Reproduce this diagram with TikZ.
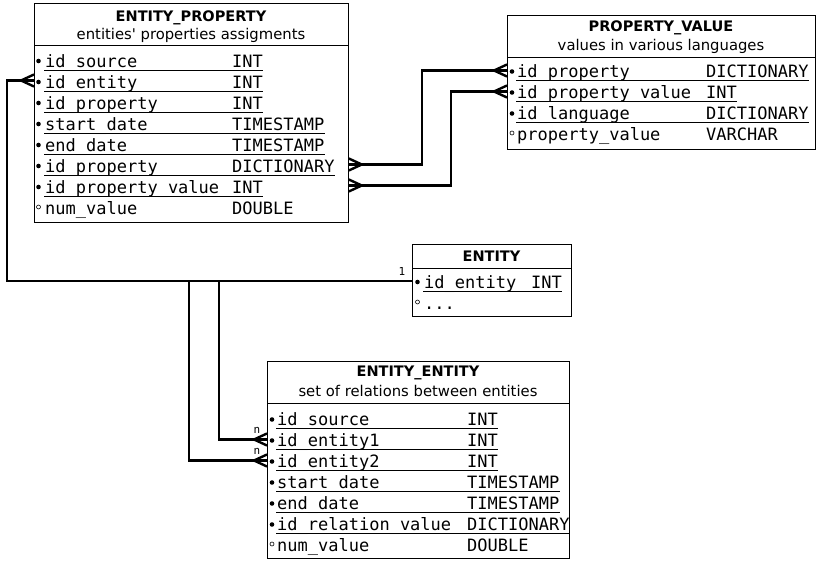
\documentclass[tikz,border=0pt]{standalone}
\usepackage{fontspec}
\setmainfont{DejaVu Sans}
\newfontfamily\fieldfont{DejaVu Sans Mono}
\usetikzlibrary{calc, positioning}

\begin{document}
\begin{tikzpicture}[
    x=1pt, y=-1pt,
    tbox/.style={
        rectangle, draw=black, line width=0.8pt, fill=white,
        anchor=north west, inner sep=0pt
    },
    ttitle/.style={
        anchor=base, inner sep=0pt, font=\fontsize{14.5}{16}\selectfont\bfseries
    },
    tsub/.style={
        anchor=base, inner sep=0pt, font=\fontsize{14.8}{16}\selectfont
    },
    fname/.style={
        anchor=base west, inner sep=0pt, font=\fieldfont\fontsize{17}{19}\selectfont
    },
    ftype/.style={fname},
    sepline/.style={line width=0.8pt, draw=black},
    uline/.style={line width=0.7pt, draw=black},
    keydot/.style={fill=black},
    nulldot/.style={draw=black, line width=0.6pt},
    conn/.style={line width=2.4pt, draw=black},
    card/.style={inner sep=0pt, font=\fieldfont\fontsize{11}{12}\selectfont},
    crowfoot/.pic={\draw[conn] (-13,0) -- (0,-6) (-13,0) -- (0,6);}
]
    \useasboundingbox (0,0) rectangle (817,561);

    % --- ENTITY_PROPERTY ---
    \node [tbox, minimum width=314pt, minimum height=219pt] (ep) at (34,3) {};
    \draw [sepline] (34,45) -- (348,45);
    \node [ttitle] (ep-title) at (191,22) {ENTITY\_PROPERTY};
    \node [tsub] (ep-sub) at (191,40) {entities\textquotesingle{} properties assigments};
    \foreach \fn/\ft [count=\i from 0] in {id\_source/INT, id\_entity/INT, id\_property/INT,
        start\_date/TIMESTAMP, end\_date/TIMESTAMP, id\_property/DICTIONARY, id\_property\_value/INT} {
        \coordinate (ep-r\i) at (0,59.5+21*\i);
        \node [fname] (ep-n\i) at (45,67.5+21*\i) {\fn};
        \node [ftype] (ep-t\i) at (232,67.5+21*\i) {\ft};
        \path [keydot] (38.5,61+21*\i) circle (2.3);
        \draw [uline] ($(ep-n\i.base west)+(-1,2.5)$) -- ($(ep-t\i.base east)+(0,2.5)$);
    }
    \node [fname] (ep-n7) at (45,214.5) {num\_value};
    \node [ftype] (ep-t7) at (232,214.5) {DOUBLE};
    \path [nulldot] (38.5,207) circle (2);

    % --- PROPERTY_VALUE ---
    \node [tbox, minimum width=308pt, minimum height=134pt] (pv) at (507,15) {};
    \draw [sepline] (507,57) -- (815,57);
    \node [ttitle] (pv-title) at (661,32) {PROPERTY\_VALUE};
    \node [tsub] (pv-sub) at (661,51) {values in various languages};
    \foreach \fn/\ft [count=\i from 0] in {id\_property/DICTIONARY, id\_property\_value/INT,
        id\_language/DICTIONARY} {
        \coordinate (pv-r\i) at (0,70.5+21*\i);
        \node [fname] (pv-n\i) at (517,77.5+21*\i) {\fn};
        \node [ftype] (pv-t\i) at (706,77.5+21*\i) {\ft};
        \path [keydot] (512,71.5+21*\i) circle (2.3);
        \draw [uline] ($(pv-n\i.base west)+(-1,2.5)$) -- ($(pv-t\i.base east)+(0,2.5)$);
    }
    \node [fname] (pv-n3) at (517,140.5) {property\_value};
    \node [ftype] (pv-t3) at (706,140.5) {VARCHAR};
    \path [nulldot] (512,133) circle (2);

    % --- ENTITY ---
    \node [tbox, minimum width=159pt, minimum height=72pt] (ent) at (412,244) {};
    \draw [sepline] (412,268) -- (571,268);
    \node [ttitle] (ent-title) at (491.5,262) {ENTITY};
    \coordinate (ent-r0) at (0,281);
    \node [fname] (ent-n0) at (424,288.5) {id\_entity};
    \node [ftype] (ent-t0) at (531,288.5) {INT};
    \path [keydot] (417.5,282) circle (2.3);
    \draw [uline] ($(ent-n0.base west)+(-1,2.5)$) -- ($(ent-t0.base east)+(0,2.5)$);
    \node [fname] (ent-n1) at (424,310) {...};
    \path [nulldot] (417.5,302) circle (2);

    % --- ENTITY_ENTITY ---
    \node [tbox, minimum width=302pt, minimum height=197pt] (ee) at (267,361) {};
    \draw [sepline] (267,403) -- (569,403);
    \node [ttitle] (ee-title) at (418,377) {ENTITY\_ENTITY};
    \node [tsub] (ee-sub) at (418,396) {set of relations between entities};
    \foreach \fn/\ft [count=\i from 0] in {id\_source/INT, id\_entity1/INT, id\_entity2/INT,
        start\_date/TIMESTAMP, end\_date/TIMESTAMP, id\_relation\_value/DICTIONARY} {
        \coordinate (ee-r\i) at (0,418.5+21*\i);
        \node [fname] (ee-n\i) at (277,425.5+21*\i) {\fn};
        \node [ftype] (ee-t\i) at (467,425.5+21*\i) {\ft};
        \path [keydot] (272,419.5+21*\i) circle (2.3);
        \draw [uline] ($(ee-n\i.base west)+(-1,2.5)$) -- ($(ee-t\i.base east)+(0,2.5)$);
    }
    \node [fname] (ee-n6) at (277,551.5) {num\_value};
    \node [ftype] (ee-t6) at (467,551.5) {DOUBLE};
    \path [nulldot] (272,544) circle (2);

    % --- CONNECTORS ---
    \coordinate (bendL) at (7,0);
    \coordinate (bendA) at (189,0);
    \coordinate (bendB) at (219,0);
    \coordinate (bendC) at (422,0);
    \coordinate (bendD) at (451,0);

    \draw [conn] (ent.west |- ent-r0) -- (bendL |- ent-r0) |- (ep.west |- ep-r1);
    \pic at (ep.west |- ep-r1) {crowfoot};
    \draw [conn] (ent.west |- ent-r0) -- (bendB |- ent-r0) |- (ee.west |- ee-r1);
    \pic at (ee.west |- ee-r1) {crowfoot};
    \draw [conn] (ent.west |- ent-r0) -- (bendA |- ent-r0) |- (ee.west |- ee-r2);
    \pic at (ee.west |- ee-r2) {crowfoot};

    \draw [conn] (ep.east |- ep-r5) -- (bendC |- ep-r5) |- (pv.west |- pv-r0);
    \pic [rotate=180] at (ep.east |- ep-r5) {crowfoot};
    \pic at (pv.west |- pv-r0) {crowfoot};
    \draw [conn] (ep.east |- ep-r6) -- (bendD |- ep-r6) |- (pv.west |- pv-r1);
    \pic [rotate=180] at (ep.east |- ep-r6) {crowfoot};
    \pic at (pv.west |- pv-r1) {crowfoot};

    \node [card] (card-one) at (402,271) {1};
    \node [card] (card-n1) at (257,430) {n};
    \node [card] (card-n2) at (257,451) {n};

\end{tikzpicture}
\end{document}
